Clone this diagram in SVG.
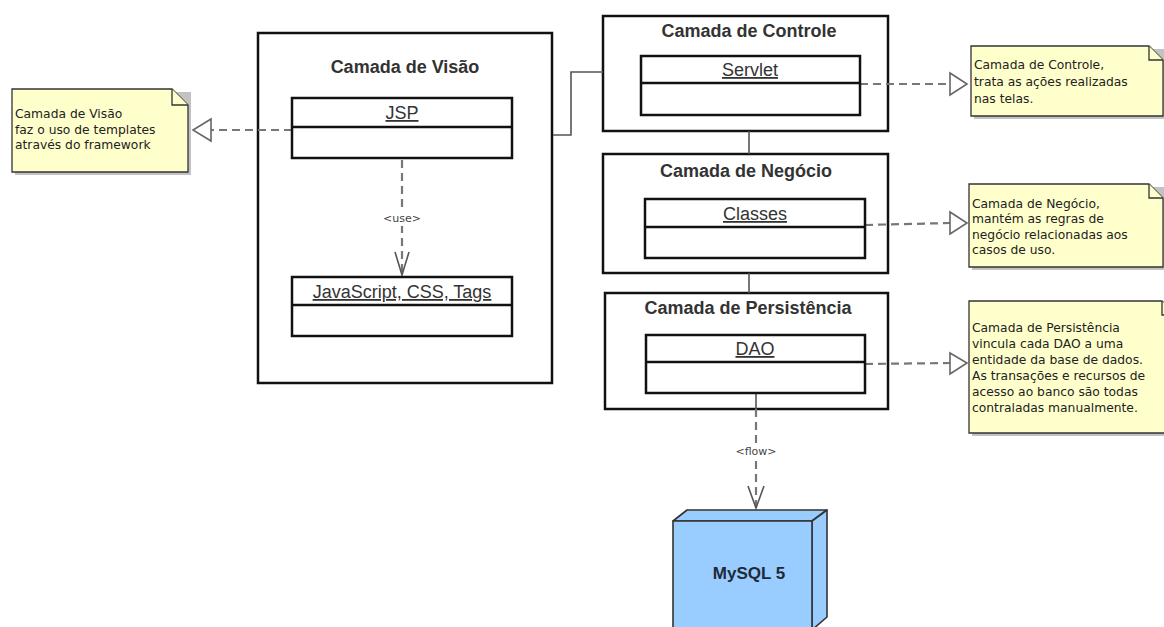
<svg xmlns="http://www.w3.org/2000/svg" width="1164" height="627" viewBox="0 0 1164 627">
<defs>
<style>
.pkg{fill:#fff;stroke:#111;stroke-width:2.5}
.cls{fill:#fff;stroke:#111;stroke-width:2.5}
.title{font-family:"Liberation Sans",Arial,sans-serif;font-weight:bold;font-size:18px;fill:#333;text-anchor:middle}
.cname{font-family:"Liberation Sans",Arial,sans-serif;font-size:18px;fill:#333;text-anchor:middle;text-decoration:underline}
.note{fill:#ffffcc;stroke:#333;stroke-width:1.3}
.shadow{fill:#999;opacity:0.6}
.ntext{font-family:"DejaVu Sans",Verdana,sans-serif;font-size:12.3px;fill:#222}
.dash{fill:none;stroke:#777;stroke-width:2.2;stroke-dasharray:8,5}
.solid{fill:none;stroke:#555;stroke-width:1.6}
.tri{fill:#fff;stroke:#666;stroke-width:1.6}
.vhead{fill:none;stroke:#555;stroke-width:1.6}
.lbl{font-family:"DejaVu Sans",Verdana,sans-serif;font-size:11px;fill:#444;text-anchor:middle}
.node{fill:#99ccff;stroke:#333;stroke-width:1.6;stroke-linejoin:round}
</style>
</defs>
<rect width="1164" height="627" fill="#fff"/>

<g id="pkg-visao">
<rect class="pkg" x="258" y="33" width="294" height="350"/>
<text class="title" x="405" y="73">Camada de Visão</text>
</g>
<g id="pkg-controle">
<rect class="pkg" x="603" y="16" width="285" height="115"/>
<text class="title" x="749" y="37">Camada de Controle</text>
</g>
<g id="pkg-negocio">
<rect class="pkg" x="603" y="154" width="285" height="119"/>
<text class="title" x="746" y="177">Camada de Negócio</text>
</g>
<g id="pkg-persistencia">
<rect class="pkg" x="605" y="293" width="283" height="116"/>
<text class="title" x="748" y="314">Camada de Persistência</text>
</g>

<g id="connectors">
<polyline class="solid" points="553,135 571,135 571,72 603,72"/>
<line class="solid" x1="749" y1="131" x2="749" y2="154"/>
<line class="solid" x1="749" y1="273" x2="749" y2="293"/>
<line class="dash" x1="292" y1="130" x2="211" y2="130"/>
<polygon class="tri" points="211,119 193,130 211,141"/>
<line class="dash" x1="860" y1="84" x2="950" y2="84"/>
<polygon class="tri" points="950,73 967,84 950,95"/>
<line class="dash" x1="865" y1="225" x2="950" y2="223"/>
<polygon class="tri" points="950,212 967,223 950,234"/>
<line class="dash" x1="865" y1="364" x2="950" y2="363"/>
<polygon class="tri" points="950,353 967,363 950,374"/>
<line class="dash" x1="402" y1="160" x2="402" y2="275"/>
<polyline class="vhead" points="395,252 402,275 409,252"/>
<rect x="381" y="211" width="42" height="15" fill="#fff"/>
<text class="lbl" x="402" y="222">&lt;use&gt;</text>
<line class="solid" x1="756" y1="393" x2="756" y2="409"/>
<line class="dash" x1="756" y1="409" x2="756" y2="508"/>
<polyline class="vhead" points="748,486 756,508 764,486"/>
<rect x="732" y="444" width="48" height="15" fill="#fff"/>
<text class="lbl" x="756" y="455">&lt;flow&gt;</text>
</g>

<g id="cls-jsp">
<rect class="cls" x="292" y="98" width="220" height="60"/>
<line class="cls" x1="292" y1="127" x2="512" y2="127"/>
<text class="cname" x="402" y="119">JSP</text>
</g>
<g id="cls-js">
<rect class="cls" x="292" y="277" width="220" height="59"/>
<line class="cls" x1="292" y1="305" x2="512" y2="305"/>
<text class="cname" x="402" y="298">JavaScript, CSS, Tags</text>
</g>
<g id="cls-servlet">
<rect class="cls" x="641" y="56" width="219" height="59"/>
<line class="cls" x1="641" y1="83" x2="860" y2="83"/>
<text class="cname" x="750" y="76">Servlet</text>
</g>
<g id="cls-classes">
<rect class="cls" x="645" y="199" width="220" height="59"/>
<line class="cls" x1="645" y1="227" x2="865" y2="227"/>
<text class="cname" x="755" y="220">Classes</text>
</g>
<g id="cls-dao">
<rect class="cls" x="646" y="335" width="219" height="58"/>
<line class="cls" x1="646" y1="362" x2="865" y2="362"/>
<text class="cname" x="755" y="355">DAO</text>
</g>

<g id="note-visao">
<path class="shadow" d="M15,92 H191 V175 H15 Z"/>
<path class="note" d="M12,89 H172 L188,105 V172 H12 Z"/>
<path class="note" d="M172,89 V105 H188" fill="none"/>
<text class="ntext" x="15" y="118">Camada de Visão</text>
<text class="ntext" x="15" y="134">faz o uso de templates</text>
<text class="ntext" x="15" y="149">através do framework</text>
</g>

<g id="note-controle">
<path class="shadow" d="M974,49 H1166 V119 H974 Z"/>
<path class="note" d="M971,46 H1149 L1163,60 V116 H971 Z"/>
<path class="note" d="M1149,46 V60 H1163" fill="none"/>
<text class="ntext" x="974" y="69">Camada de Controle,</text>
<text class="ntext" x="974" y="86">trata as ações realizadas</text>
<text class="ntext" x="974" y="103">nas telas.</text>
</g>

<g id="note-negocio">
<path class="shadow" d="M972,187 H1166 V270 H972 Z"/>
<path class="note" d="M969,184 H1149 L1163,198 V267 H969 Z"/>
<path class="note" d="M1149,184 V198 H1163" fill="none"/>
<text class="ntext" x="972" y="208">Camada de Negócio,</text>
<text class="ntext" x="972" y="223">mantém as regras de</text>
<text class="ntext" x="972" y="239">negócio relacionadas aos</text>
<text class="ntext" x="972" y="254">casos de uso.</text>
</g>

<g id="note-persistencia">
<path class="shadow" d="M972,304 H1180 V436 H972 Z"/>
<path class="note" d="M969,301 H1162 L1176,315 V433 H969 Z"/>
<path class="note" d="M1162,301 V315 H1176" fill="none"/>
<text class="ntext" x="972" y="332">Camada de Persistência</text>
<text class="ntext" x="972" y="348">vincula cada DAO a uma</text>
<text class="ntext" x="972" y="364">entidade da base de dados.</text>
<text class="ntext" x="972" y="380">As transações e recursos de</text>
<text class="ntext" x="972" y="396">acesso ao banco são todas</text>
<text class="ntext" x="972" y="412">contraladas manualmente.</text>
</g>

<g id="node-mysql">
<polygon class="node" points="673,521 687,510 827,510 812,521"/>
<polygon class="node" points="812,521 827,510 827,617 812,630"/>
<rect class="node" x="673" y="521" width="139" height="110"/>
<text x="749" y="579" font-family="'Liberation Sans',Arial,sans-serif" font-weight="bold" font-size="17" fill="#1e2a36" text-anchor="middle">MySQL 5</text>
</g>
</svg>
